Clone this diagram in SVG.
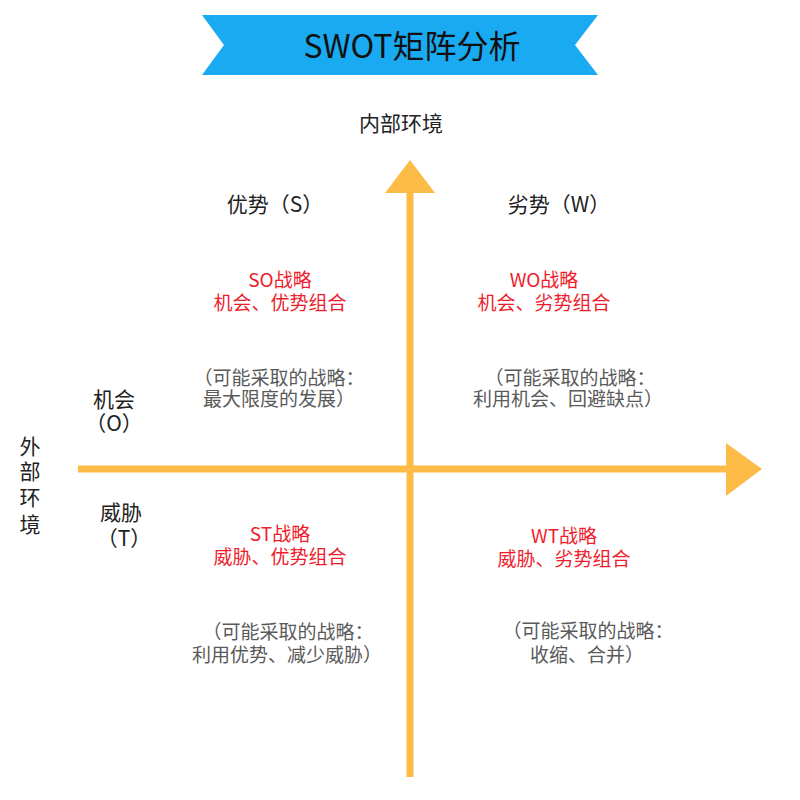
<svg xmlns="http://www.w3.org/2000/svg" width="800" height="800" viewBox="0 0 800 800">
  <style>
    text { font-family: "Noto Sans CJK SC", "Noto Sans", sans-serif; }
    .title { font-size: 32px; fill: #111; text-anchor: middle; }
    .axis-label { font-size: 21px; fill: #222; text-anchor: middle; }
    .quad { font-size: 21px; fill: #222; text-anchor: middle; }
    .red { font-size: 19px; fill: #ee1c2c; text-anchor: middle; }
    .gray { font-size: 19px; fill: #5a5a5a; text-anchor: middle; }
    .axis { stroke: #fdbb48; stroke-width: 7; fill: none; }
    .head { fill: #fdbb48; }
  </style>
  <rect width="800" height="800" fill="#ffffff"/>

  <g id="title">
    <polygon points="202,15 598,15 575,45 598,75 202,75 224,45" fill="#1aaaf2"/>
    <text class="title" x="412" y="58">SWOT矩阵分析</text>
  </g>

  <g id="connectors">
    <line class="axis" x1="410" y1="777" x2="410" y2="190"/>
    <polygon class="head" points="385,193 410,160 435,193"/>
    <line class="axis" x1="78" y1="469" x2="729" y2="469"/>
    <polygon class="head" points="726,443 762,469 726,496"/>
  </g>

  <g id="internal-label">
    <text class="axis-label" x="401" y="131">内部环境</text>
  </g>
  <g id="external-label">
    <text class="axis-label"><tspan x="30" y="454">外</tspan><tspan x="30" y="479">部</tspan><tspan x="30" y="505">环</tspan><tspan x="30" y="532">境</tspan></text>
  </g>

  <g id="strength">
    <text class="quad" x="275" y="212">优势（S）</text>
  </g>
  <g id="weakness">
    <text class="quad" x="559" y="212">劣势（W）</text>
  </g>
  <g id="opportunity">
    <text class="quad"><tspan x="114" y="407">机会</tspan><tspan x="114" y="431">（O）</tspan></text>
  </g>
  <g id="threat">
    <text class="quad"><tspan x="121" y="520">威胁</tspan><tspan x="124" y="546">（T）</tspan></text>
  </g>

  <g id="so">
    <text class="red"><tspan x="280" y="287">SO战略</tspan><tspan x="280" y="310">机会、优势组合</tspan></text>
    <text class="gray"><tspan x="279" y="385">（可能采取的战略：</tspan><tspan x="279" y="406">最大限度的发展）</tspan></text>
  </g>
  <g id="wo">
    <text class="red"><tspan x="544" y="287">WO战略</tspan><tspan x="544" y="310">机会、劣势组合</tspan></text>
    <text class="gray"><tspan x="570" y="385">（可能采取的战略：</tspan><tspan x="568" y="406">利用机会、回避缺点）</tspan></text>
  </g>
  <g id="st">
    <text class="red"><tspan x="280" y="541">ST战略</tspan><tspan x="280" y="564">威胁、优势组合</tspan></text>
    <text class="gray"><tspan x="288" y="639">（可能采取的战略：</tspan><tspan x="287" y="662">利用优势、减少威胁）</tspan></text>
  </g>
  <g id="wt">
    <text class="red"><tspan x="564" y="543">WT战略</tspan><tspan x="564" y="566">威胁、劣势组合</tspan></text>
    <text class="gray"><tspan x="588" y="638">（可能采取的战略：</tspan><tspan x="587" y="662">收缩、合并）</tspan></text>
  </g>
</svg>
